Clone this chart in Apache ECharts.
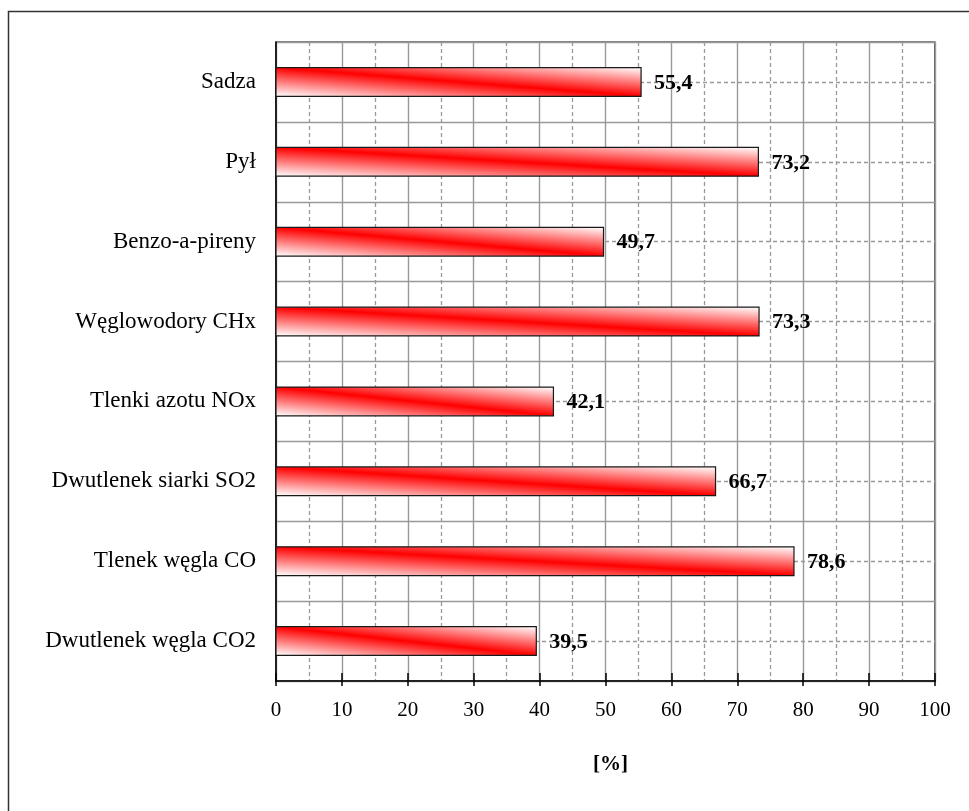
<!DOCTYPE html>
<html><head><meta charset="utf-8">
<script src="https://cdn.jsdelivr.net/npm/echarts@6/dist/echarts.min.js"></script>
<style>html,body{margin:0;padding:0;background:#fff}#c{width:969px;height:811px}</style>
</head><body><div id="c"></div>
<script>
const categories = ['Dwutlenek węgla CO2','Tlenek węgla CO','Dwutlenek siarki SO2','Tlenki azotu NOx','Węglowodory CHx','Benzo-a-pireny','Pył','Sadza'];
const values = [39.5, 78.6, 66.7, 42.1, 73.3, 49.7, 73.2, 55.4];
const xMin = 0, xMax = 100, xStep = 10;
const axisTitle = '[%]';

const F = '"Liberation Serif","Times New Roman",serif';
const chart = echarts.init(document.getElementById('c'), null, {renderer: 'canvas'});

function renderItem(params, api) {
  const idx = api.value(1), v = api.value(0);
  const s = api.coord([0, idx]);
  const e = api.coord([v, idx]);
  const h = api.size([0, 1])[1] * 0.36;
  const x = s[0], y = s[1] - h / 2, w = e[0] - s[0];
  const L = Math.sqrt(w * w + h * h);
  const nx = h / L, ny = -w / L, d = w * h / L;
  const cx = x + w / 2, cy = s[1];
  const grad = {
    type: 'linear', global: true,
    x: cx - nx * d, y: cy - ny * d, x2: cx + nx * d, y2: cy + ny * d,
    colorStops: [{offset: 0, color: '#ffffff'}, {offset: 0.5, color: '#ff0000'}, {offset: 1, color: '#ffffff'}]
  };
  return {
    type: 'group',
    children: [
      {type: 'rect', shape: {x: x, y: y, width: w, height: h}, style: {fill: grad, stroke: '#1a1a1a', lineWidth: 1.2}},
      {type: 'text', x: e[0] + 13, y: s[1] + 1, style: {text: v.toFixed(1).replace('.', ','), font: 'bold 22px ' + F, fill: '#000', align: 'left', verticalAlign: 'middle'}}
    ]
  };
}

const option = {
  backgroundColor: '#fff',
  animation: false,
  graphic: [{type: 'rect', z: -10, shape: {x: 8.5, y: 11.5, width: 1200, height: 1200}, style: {fill: null, stroke: '#333', lineWidth: 1.5}}],
  grid: {left: 276, top: 42, right: 34, bottom: 130, show: true, borderColor: '#000', borderWidth: 1.2, backgroundColor: 'transparent', containLabel: false, outerBoundsMode: 'none'},
  xAxis: [
    {type: 'value', min: xMin, max: xMax, interval: xStep, position: 'bottom',
     axisLine: {show: true, lineStyle: {color: '#000', width: 1.5}},
     axisTick: {show: true, inside: true, length: 8, lineStyle: {color: '#000', width: 1.5}},
     axisLabel: {show: true, color: '#000', fontFamily: F, fontSize: 21, margin: 19},
     splitLine: {show: true, lineStyle: {color: '#999', width: 1.4}},
     minorTick: {show: false, splitNumber: 2},
     minorSplitLine: {show: true, lineStyle: {color: '#999', width: 1.3, type: [4, 3]}},
     name: axisTitle, nameLocation: 'middle', nameGap: 73,
     nameTextStyle: {color: '#000', fontFamily: F, fontSize: 21, fontWeight: 'bold', padding: [0, 0, 0, 10]}},
    {type: 'value', min: xMin, max: xMax, interval: xStep, position: 'bottom',
     axisLine: {show: false}, axisTick: {show: true, inside: false, length: 5, lineStyle: {color: '#000', width: 1.5}},
     axisLabel: {show: false}, splitLine: {show: false}}
  ],
  yAxis: [
    {type: 'category', data: categories, position: 'left',
     axisLine: {show: true, lineStyle: {color: '#000', width: 1.5}},
     axisTick: {show: false},
     axisLabel: {color: '#000', fontFamily: F, fontSize: 23, margin: 20},
     splitLine: {show: false}},
    {type: 'value', min: 0, max: categories.length, interval: 1, position: 'right',
     axisLine: {show: false}, axisTick: {show: false}, axisLabel: {show: false},
     splitLine: {show: true, lineStyle: {color: '#999', width: 1.4}},
     minorTick: {show: false, splitNumber: 2},
     minorSplitLine: {show: true, lineStyle: {color: '#999', width: 1.3, type: [4, 3]}}}
  ],
  series: [{
    type: 'custom', coordinateSystem: 'cartesian2d', xAxisIndex: 0, yAxisIndex: 0,
    renderItem: renderItem,
    encode: {x: 0, y: 1},
    data: values.map((v, i) => [v, i]),
    z: 5
  }]
};
chart.setOption(option);
</script></body></html>
